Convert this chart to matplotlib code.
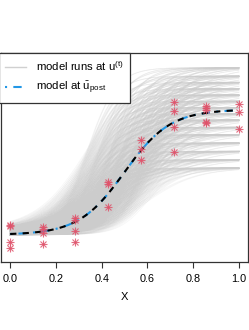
import numpy as np
import matplotlib
matplotlib.use("Agg")
import matplotlib.pyplot as plt
from itertools import product

plt.rcParams['font.family'] = ['Liberation Sans', 'DejaVu Sans']
plt.rcParams['mathtext.fontset'] = 'custom'
plt.rcParams['mathtext.rm'] = 'Liberation Sans'
plt.rcParams['mathtext.it'] = 'Liberation Sans'

# observed data (x, y)
obs_x = [0, 0, 0, 0,
         1/7, 1/7, 1/7, 1/7,
         2/7, 2/7, 2/7, 2/7,
         3/7, 3/7, 3/7,
         4/7, 4/7, 4/7,
         5/7, 5/7, 5/7, 5/7,
         6/7, 6/7, 6/7, 6/7, 6/7,
         1, 1, 1]
obs_y = [0.177, 0.172, 0.097, 0.066,
         0.166, 0.160, 0.140, 0.085,
         0.209, 0.203, 0.148, 0.094,
         0.384, 0.372, 0.265,
         0.584, 0.541, 0.488,
         0.767, 0.724, 0.647, 0.525,
         0.746, 0.735, 0.729, 0.670, 0.664,
         0.755, 0.719, 0.635]

# parameter draws u^(t): lower level, upper level, midpoint, slope
u_lower = [0.13, 0.145, 0.16]
u_upper = [0.45, 0.49, 0.53, 0.57, 0.61, 0.645, 0.68, 0.71, 0.74,
           0.77, 0.80, 0.83, 0.86, 0.89, 0.93]
u_mid = [0.34, 0.39, 0.44, 0.49, 0.54, 0.60]
u_slope = [9, 12, 16]

# posterior mean parameters
u_post = [0.13, 0.73, 0.50, 10]


def model(x, lo, hi, x0, k):
    return lo + (hi - lo) / (1 + np.exp(-k * (x - x0)))


xs = np.linspace(0, 1, 150)

fig = plt.figure(figsize=(2.49, 3.30), dpi=100)
ax = fig.add_axes([1/249, 1 - 262/330, 247/249, 209/330])

for lo, hi, x0, k in product(u_lower, u_upper, u_mid, u_slope):
    ax.plot(xs, model(xs, lo, hi, x0, k), color='#cccccc', lw=0.5, alpha=0.18, zorder=1)

ax.plot(xs, model(xs, *u_post), color='#2297E6', lw=1.5,
        dashes=(1, 3, 4, 3), zorder=3)
ax.plot(xs, model(xs, *u_post), color='black', lw=1.5,
        dashes=(3, 3), zorder=3)

ax.plot(obs_x, obs_y, ls='none', marker='+', ms=6, mew=0.8, color='#DF536B', alpha=0.85, zorder=4)
ax.plot(obs_x, obs_y, ls='none', marker='x', ms=4.3, mew=0.8, color='#DF536B', alpha=0.85, zorder=4)

ax.set_xlim(-0.04, 1.04)
ax.set_ylim(0, 1)
ax.set_xticks([0, 0.2, 0.4, 0.6, 0.8, 1.0])
ax.set_xticklabels(['0.0', '0.2', '0.4', '0.6', '0.8', '1.0'])
ax.set_yticks([])
ax.tick_params(axis='x', length=4.3, width=0.8, labelsize=7.8, pad=4.5, color='#333333')
ax.set_xlabel('X', fontsize=8, labelpad=5.5)
for s in ax.spines.values():
    s.set_linewidth(0.9)
    s.set_color('#333333')

h1, = ax.plot([], [], color='#d0d0d0', lw=1)
h2, = ax.plot([], [], color='#2297E6', lw=1.5, dashes=(1, 3, 4, 3))
leg = ax.legend([h1, h2], [r'model runs at u$^{\mathregular{(t)}}$', r'model at $\mathregular{\bar{u}_{post}}$'],
                loc='upper left', bbox_to_anchor=(-0.01, 1.0), fontsize=8.2,
                fancybox=False, framealpha=1, edgecolor='#333333',
                handlelength=1.9, borderpad=0.55, labelspacing=0.6, handletextpad=0.85,
                borderaxespad=0)
leg.get_frame().set_linewidth(0.9)
leg.set_zorder(5)

fig.savefig('out.png', dpi=100)
